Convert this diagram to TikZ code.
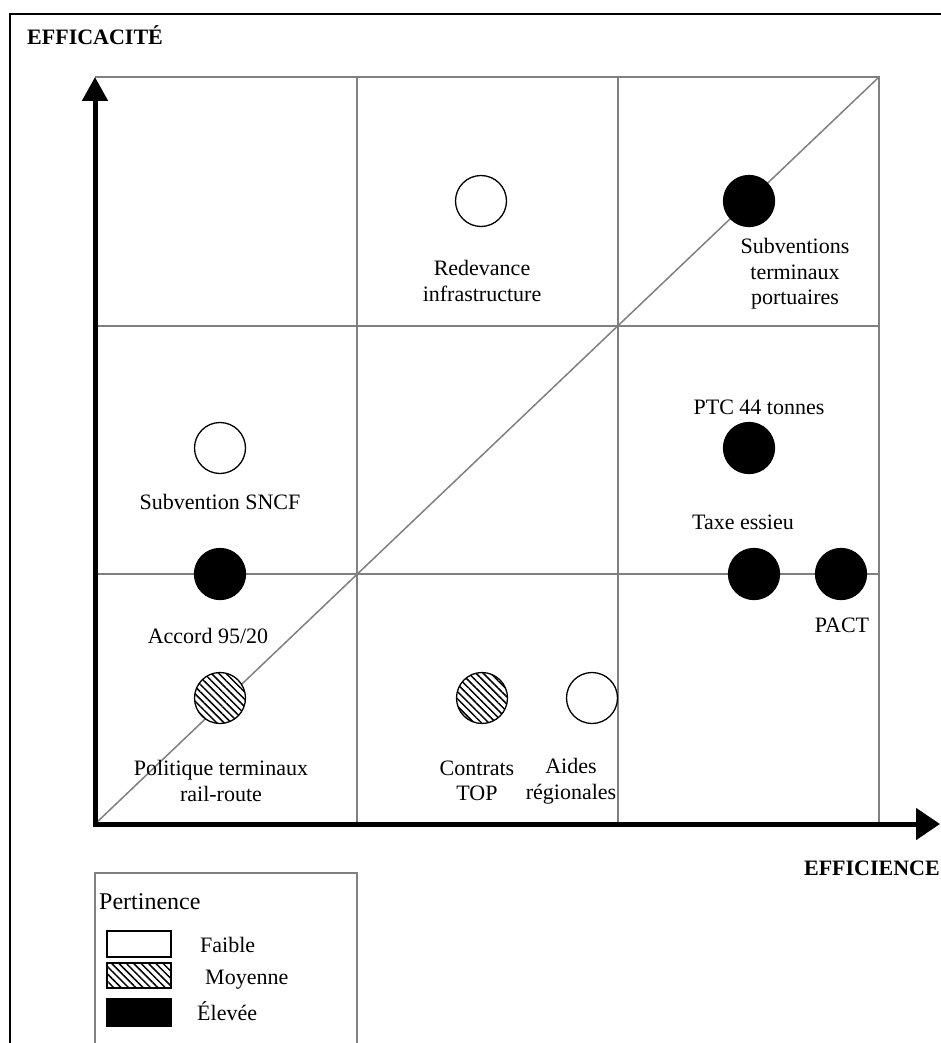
\documentclass[tikz,border=0pt]{standalone}
\usepackage{fontspec}
\setmainfont{Liberation Serif}
\usetikzlibrary{arrows.meta,patterns.meta}
\begin{document}
\begin{tikzpicture}[x=1pt,y=-1pt,
  gridline/.style={draw=gray, line width=1.5pt},
  axisline/.style={line width=5pt, line join=miter},
  dot/.style={circle, minimum size=51pt, inner sep=0pt, draw=black, line width=1.3pt},
  faible/.style={dot, fill=white},
  moyenne/.style={dot, preaction={fill=white}, pattern={Lines[angle=-45,distance=5.2pt,line width=1.5pt]}},
  elevee/.style={dot, fill=black},
  lbl/.style={font=\fontsize{22}{25.5}\selectfont, align=center, inner sep=0pt},
  title/.style={font=\fontsize{22}{25}\selectfont\bfseries, inner sep=0pt},
  swatch/.style={draw=black, line width=1.2pt}
]
\useasboundingbox (0,0) rectangle (941,1043);
\fill[white] (0,0) rectangle (941,1043);

% outer frame
\draw[line width=2pt] (10,1043) -- (10,14) -- (941,14);

% grid
\draw[gridline] (95,77) -- (879,77) -- (879,824);
\draw[gridline] (357,77) -- (357,824);
\draw[gridline] (618,77) -- (618,824);
\draw[gridline] (95,326) -- (879,326);
\draw[gridline] (95,574) -- (879,574);
\draw[gridline] (95,824) -- (879,77);

% axes
\coordinate (ytip) at (95,77);
\coordinate (xtip) at (940,824);
\draw[axisline, {Triangle[length=24pt,width=25pt]}-{Triangle[length=24pt,width=31pt]}] (ytip) |- (xtip);

\node[title, anchor=base west] (effic) at (27,45) {EFFICACITÉ};
\node[title, anchor=base east] (effin) at (940,875) {EFFICIENCE};

% points
\node[faible] (redev) at (481,201) {};
\node[elevee] (subport) at (749,201) {};
\node[elevee] (ptc) at (749,448) {};
\node[elevee] (taxe) at (754,574) {};
\node[elevee] (pact) at (841,574) {};
\node[faible] (sncf) at (220,448) {};
\node[elevee] (accord) at (220,574) {};
\node[moyenne] (polit) at (220,698) {};
\node[moyenne] (contrats) at (482,698) {};
\node[faible] (aides) at (592,698) {};

% labels
\node[lbl] (lredev) at (482,281) {Redevance\\infrastructure};
\node[lbl] (lsubport) at (795,274) {Subventions\\terminaux\\portuaires};
\node[lbl] (lptc) at (759,407) {PTC 44 tonnes};
\node[lbl] (ltaxe) at (743,522) {Taxe essieu};
\node[lbl] (lpact) at (842,625) {PACT};
\node[lbl] (lsncf) at (220,502) {Subvention SNCF};
\node[lbl] (laccord) at (208,636) {Accord 95/20};
\node[lbl] (lpolit) at (221,781) {Politique terminaux\\rail-route};
\node[lbl] (lcontrats) at (477,781) {Contrats\\TOP};
\node[lbl] (laides) at (571,781) {Aides\\régionales};

% legend
\draw[gridline] (95,1043) -- (95,873) -- (357,873) -- (357,1043);
\node[font=\fontsize{24}{28}\selectfont, inner sep=0pt, anchor=base west] (pert) at (99,909) {Pertinence};
\draw[swatch, fill=white] (107,931) rectangle (171,957);
\draw[swatch, pattern={Lines[angle=-45,distance=5.2pt,line width=1.5pt]}] (107,963) rectangle (171,988);
\draw[swatch, fill=black] (107,999) rectangle (171,1026);
\node[lbl, anchor=base west] (lfaible) at (200,952) {Faible};
\node[lbl, anchor=base west] (lmoy) at (205,984) {Moyenne};
\node[lbl, anchor=base west] (lelev) at (197,1020) {Élevée};
\end{tikzpicture}
\end{document}
